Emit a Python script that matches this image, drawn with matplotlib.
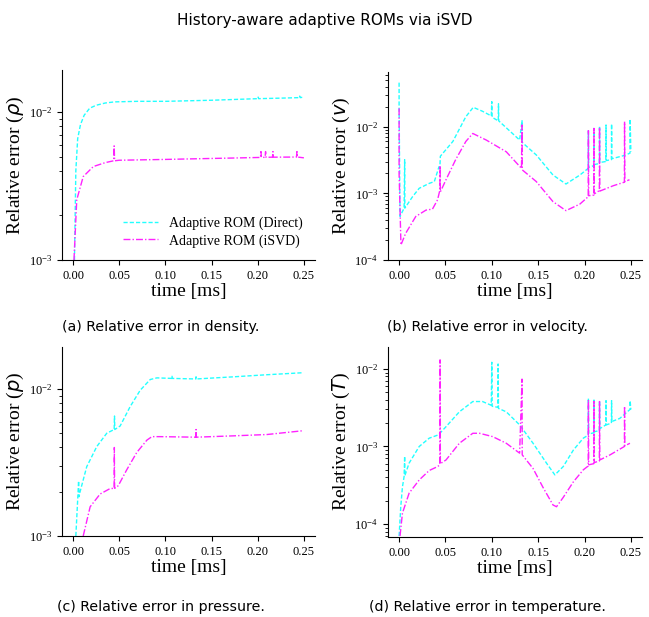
import numpy as np
import matplotlib.pyplot as plt

plt.rcParams["font.family"] = ["Liberation Serif", "DejaVu Serif"]
plt.rcParams["mathtext.fontset"] = "stix"

CYAN = "#22ffff"
MAGENTA = "#ff22ff"

# ---- (a) density ----
t_rho_direct = [0.0015, 0.003, 0.005, 0.008, 0.012, 0.018, 0.025, 0.035, 0.045, 0.07, 0.10,
                0.15, 0.20, 0.2005, 0.201, 0.225, 0.245, 0.2455, 0.246, 0.25]
e_rho_direct = [0.0010, 0.0040, 0.0066, 0.0082, 0.0095, 0.0106, 0.0111, 0.0115, 0.0117, 0.0118,
                0.0118, 0.0120, 0.0123, 0.0126, 0.0123, 0.0124, 0.0125, 0.0128, 0.0125, 0.0126]
t_rho_isvd = [0.001, 0.004, 0.011, 0.022, 0.035, 0.044, 0.0445, 0.045, 0.05, 0.10, 0.134, 0.17,
              0.203, 0.2035, 0.204, 0.208, 0.2085, 0.209, 0.216, 0.2165, 0.217, 0.242, 0.2425,
              0.243, 0.25]
e_rho_isvd = [0.0010, 0.00255, 0.00366, 0.00428, 0.00455, 0.00468, 0.0059, 0.00468, 0.00472,
              0.00478, 0.00483, 0.00488, 0.00493, 0.0054, 0.00493, 0.00494, 0.0054, 0.00494,
              0.00495, 0.0054, 0.00495, 0.00496, 0.0054, 0.00496, 0.0049]

# ---- (b) velocity ----
t_v_direct = [0.0, 0.0, 0.001, 0.0054, 0.006, 0.0062, 0.0145, 0.0217, 0.0325, 0.038, 0.043,
              0.044, 0.0445, 0.058, 0.072, 0.080, 0.090, 0.0994, 0.1, 0.1004, 0.107, 0.1072,
              0.1075, 0.130, 0.1326, 0.1328, 0.148, 0.166, 0.180, 0.195, 0.204, 0.2042, 0.2045,
              0.210, 0.2102, 0.2105, 0.216, 0.2162, 0.2165, 0.223, 0.2232, 0.2235, 0.229, 0.2292,
              0.2295, 0.243, 0.249, 0.2492, 0.25]
e_v_direct = [0.0457, 0.02, 0.00045, 0.00060, 0.0032, 0.00060, 0.00089, 0.00119, 0.00141,
              0.0015, 0.0025, 0.0025, 0.0036, 0.0060, 0.0141, 0.0195, 0.0170, 0.0145, 0.0237,
              0.0138, 0.0122, 0.0220, 0.0122, 0.0063, 0.0123, 0.0058, 0.00376, 0.00188,
              0.00138, 0.00188, 0.00237, 0.0087, 0.00245, 0.0026, 0.0094, 0.0027, 0.0028,
              0.0102, 0.0029, 0.0030, 0.0106, 0.0031, 0.0032, 0.0110, 0.0033, 0.0037, 0.0040,
              0.0130, 0.0042]
t_v_isvd = [0.0, 0.0, 0.002, 0.007, 0.018, 0.029, 0.036, 0.0415, 0.044, 0.0442, 0.0445,
            0.0506, 0.061, 0.072, 0.0795, 0.094, 0.1156, 0.132, 0.1326, 0.1328, 0.148, 0.166,
            0.180, 0.195, 0.204, 0.2042, 0.2045, 0.210, 0.2102, 0.2105, 0.216, 0.2162, 0.2165,
            0.231, 0.243, 0.2432, 0.2435, 0.2485]
e_v_isvd = [0.0188, 0.0020, 0.000168, 0.00025, 0.00045, 0.00056, 0.00058, 0.0008, 0.00112,
            0.0026, 0.00105, 0.0016, 0.0032, 0.0060, 0.0079, 0.0063, 0.0042, 0.00237, 0.0106,
            0.00225, 0.0015, 0.00075, 0.00055, 0.00069, 0.00089, 0.0087, 0.00092, 0.00094,
            0.0094, 0.00098, 0.0011, 0.0098, 0.00108, 0.0013, 0.00147, 0.0119, 0.00150, 0.0016]

# ---- (c) pressure ----
t_p_direct = [0.003, 0.005, 0.006, 0.0065, 0.0076, 0.0148, 0.0257, 0.0365, 0.0445, 0.0449,
              0.0452, 0.051, 0.0619, 0.0727, 0.0836, 0.0908, 0.107, 0.1072, 0.1075, 0.133,
              0.1332, 0.1335, 0.174, 0.210, 0.249]
e_p_direct = [0.0010, 0.00176, 0.00237, 0.00185, 0.0020, 0.00296, 0.00406, 0.0050, 0.0053,
              0.00655, 0.0053, 0.0056, 0.0076, 0.0098, 0.0116, 0.0119, 0.0118, 0.0122, 0.0118,
              0.0117, 0.0121, 0.0117, 0.0121, 0.0125, 0.0129]
t_p_isvd = [0.011, 0.0185, 0.0293, 0.040, 0.0445, 0.0447, 0.045, 0.049, 0.058, 0.069, 0.080,
            0.0854, 0.0944, 0.133, 0.1332, 0.1335, 0.174, 0.210, 0.249]
e_p_isvd = [0.0010, 0.00158, 0.00193, 0.0021, 0.00211, 0.0040, 0.00211, 0.0022, 0.00281,
            0.0037, 0.00449, 0.00474, 0.00474, 0.0047, 0.0053, 0.0047, 0.0048, 0.0049, 0.0052]

# ---- (d) temperature ----
t_T_direct = [0.0, 0.0018, 0.0036, 0.0054, 0.006, 0.0062, 0.0108, 0.0217, 0.0325, 0.0415,
              0.044, 0.0506, 0.065, 0.0795, 0.090, 0.0994, 0.1, 0.1004, 0.1066, 0.1068, 0.1072,
              0.1156, 0.130, 0.1445, 0.159, 0.168, 0.177, 0.188, 0.1987, 0.204, 0.2042, 0.2045,
              0.210, 0.2102, 0.2105, 0.216, 0.2162, 0.2165, 0.220, 0.223, 0.2232, 0.2235, 0.229,
              0.2292, 0.2295, 0.238, 0.249, 0.2492, 0.25]
e_T_direct = [0.00007, 0.000167, 0.00030, 0.00041, 0.00075, 0.00042, 0.00061, 0.0010, 0.00128,
              0.0014, 0.00148, 0.0018, 0.0028, 0.0038, 0.0038, 0.0034, 0.0122, 0.0033, 0.0032,
              0.0116, 0.0031, 0.0028, 0.0019, 0.0011, 0.00061, 0.00043, 0.00055, 0.0009,
              0.00128, 0.0014, 0.0042, 0.00145, 0.0015, 0.0041, 0.00155, 0.0016, 0.0039, 0.0017,
              0.0018, 0.0019, 0.0039, 0.0019, 0.0020, 0.0039, 0.0021, 0.0023, 0.0030, 0.0039,
              0.0030]
t_T_isvd = [0.001, 0.0036, 0.0108, 0.0217, 0.0325, 0.0415, 0.044, 0.0442, 0.0445, 0.0506,
            0.065, 0.0795, 0.0867, 0.101, 0.1156, 0.130, 0.1326, 0.1328, 0.1445, 0.155, 0.166,
            0.1698, 0.177, 0.188, 0.1987, 0.204, 0.2042, 0.2045, 0.210, 0.2102, 0.2105, 0.216,
            0.2162, 0.2165, 0.2276, 0.243, 0.2432, 0.2435, 0.249]
e_T_isvd = [0.00007, 0.000138, 0.00025, 0.00037, 0.00049, 0.00055, 0.00058, 0.0131, 0.0006,
            0.00067, 0.0011, 0.00148, 0.00148, 0.00134, 0.0011, 0.00082, 0.0074, 0.00078,
            0.00052, 0.0003, 0.000176, 0.000167, 0.00022, 0.00035, 0.0005, 0.00056, 0.0040,
            0.00058, 0.0006, 0.0038, 0.00062, 0.00065, 0.0038, 0.00067, 0.00078, 0.0010, 0.0033,
            0.00102, 0.0011]

panels = [
    ("(a) Relative error in density.", r"$\rho$", t_rho_direct, e_rho_direct, t_rho_isvd, e_rho_isvd, (1e-3, 0.0192)),
    ("(b) Relative error in velocity.", r"$v$", t_v_direct, e_v_direct, t_v_isvd, e_v_isvd, (1e-4, 0.066)),
    ("(c) Relative error in pressure.", r"$p$", t_p_direct, e_p_direct, t_p_isvd, e_p_isvd, (1e-3, 0.0193)),
    ("(d) Relative error in temperature.", r"$T$", t_T_direct, e_T_direct, t_T_isvd, e_T_isvd, (6.8e-5, 0.0192)),
]

positions = [
    [0.0955, 0.5786, 0.3898, 0.3079],
    [0.5978, 0.5786, 0.3914, 0.3047],
    [0.0955, 0.1313, 0.3898, 0.3063],
    [0.5978, 0.1297, 0.3914, 0.3079],
]
caption_xy = [(0.248, 0.470), (0.751, 0.470), (0.248, 0.016), (0.751, 0.016)]

fig = plt.figure(figsize=(6.49, 6.17), dpi=100)
fig.text(0.5, 0.967, "History-aware adaptive ROMs via iSVD", ha="center", va="center",
         fontsize=11, family="DejaVu Sans")

for (cap, sym, td, ed, ti, ei, ylim), pos, (cx, cy) in zip(panels, positions, caption_xy):
    ax = fig.add_axes(pos)
    ax.plot(td, ed, color=CYAN, ls=(0, (3, 1.5)), lw=1.0, label="Adaptive ROM (Direct)")
    ax.plot(ti, ei, color=MAGENTA, ls=(0, (5, 1.5, 1, 1.5)), lw=1.0, label="Adaptive ROM (iSVD)")
    ax.set_yscale("log")
    ax.set_ylim(*ylim)
    ax.set_xlim(-0.012, 0.262)
    ax.set_xticks([0.0, 0.05, 0.10, 0.15, 0.20, 0.25])
    ax.set_xticklabels(["0.00", "0.05", "0.10", "0.15", "0.20", "0.25"])
    ax.spines["top"].set_visible(False)
    ax.spines["right"].set_visible(False)
    ax.tick_params(labelsize=9, direction="out")
    ax.set_xlabel("time [ms]", fontsize=14, labelpad=1)
    ax.set_ylabel("Relative error (" + sym + ")", fontsize=14, labelpad=2,
                  math_fontfamily="dejavusans")
    fig.text(cx, cy, cap, ha="center", va="center", fontsize=10.2, family="DejaVu Sans")
    if cap.startswith("(a)"):
        ax.legend(loc="lower right", bbox_to_anchor=(1.0, 0.0), frameon=False, fontsize=10,
                  handlelength=2.5, labelspacing=0.3)

fig.savefig("out.png", dpi=100)
